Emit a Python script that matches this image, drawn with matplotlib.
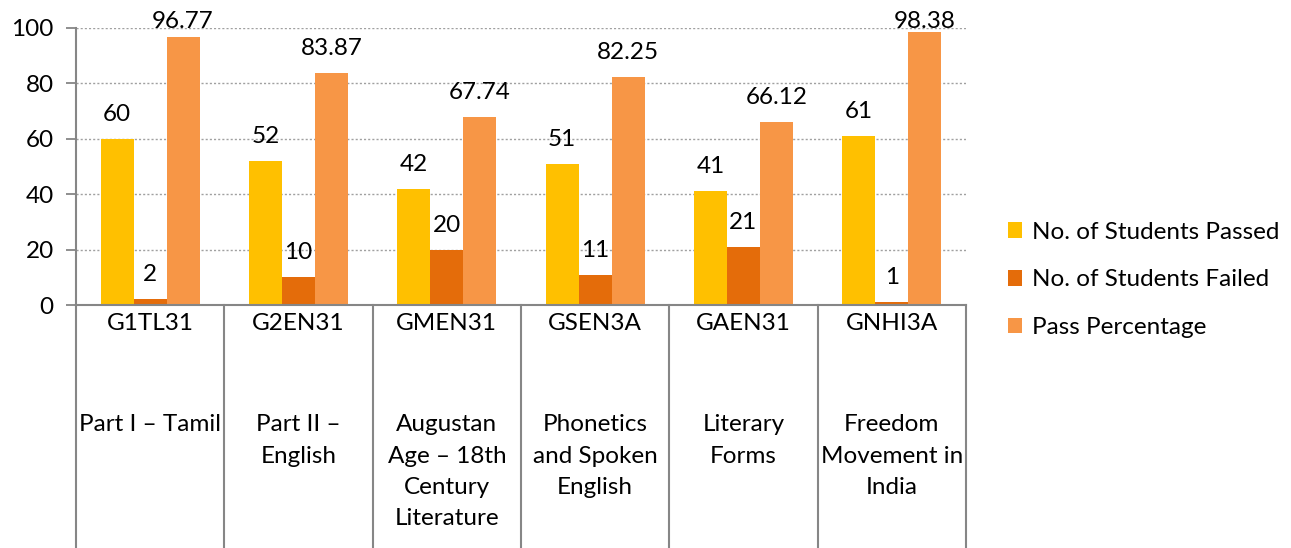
import matplotlib.pyplot as plt
import numpy as np

plt.rcParams['font.family'] = ['Lato', 'DejaVu Sans']

codes = ['G1TL31', 'G2EN31', 'GMEN31', 'GSEN3A', 'GAEN31', 'GNHI3A']
names = ['Part I \u2013 Tamil', 'Part II \u2013\nEnglish', 'Augustan\nAge \u2013 18th\nCentury\nLiterature',
         'Phonetics\nand Spoken\nEnglish', 'Literary\nForms', 'Freedom\nMovement in\nIndia']
passed = [60, 52, 42, 51, 41, 61]
failed = [2, 10, 20, 11, 21, 1]
pass_pct = [96.77, 83.87, 67.74, 82.25, 66.12, 98.38]

series = [('No. of Students Passed', passed, '#FFC000'),
          ('No. of Students Failed', failed, '#E46C0A'),
          ('Pass Percentage', pass_pct, '#F79646')]

fig = plt.figure(figsize=(12.91, 5.48), dpi=100)
ax = fig.add_axes([76 / 1291, 1 - 305 / 548, (966 - 76) / 1291, (305 - 28) / 548])

x = np.arange(len(codes))
w = 0.222
fs = 17.5
for i, (lab, vals, col) in enumerate(series):
    bars = ax.bar(x + (i - 1) * w, vals, w, color=col, label=lab, zorder=2)
    for b, v in zip(bars, vals):
        # labels sit above the bar but are kept inside the plot area (like Excel)
        ax.text(b.get_x() + b.get_width() / 2, min(v + 6.5, 100), f'{v:g}',
                ha='center', va='baseline', fontsize=fs, clip_on=False)

ax.set_xlim(-0.5, len(codes) - 0.5)
ax.set_ylim(0, 100)
ax.set_yticks(range(0, 101, 20))
ax.tick_params(axis='y', length=7, width=1.3, color='#868686', labelsize=fs, pad=9)
ax.set_xticks([])
ax.grid(axis='y', linestyle=(0, (1.5, 1.5)), color='#A0A0A0', lw=1, zorder=0)
for s in ['top', 'right']:
    ax.spines[s].set_visible(False)
for s in ['left', 'bottom']:
    ax.spines[s].set_color('#868686')
    ax.spines[s].set_linewidth(1.5)

# category table below the axis
tr = ax.get_xaxis_transform()
for xb in np.arange(-0.5, len(codes), 1.0):
    ax.plot([xb, xb], [0, -0.9], transform=tr, color='#868686', lw=1.5, clip_on=False)
for i in range(len(codes)):
    ax.text(i, -0.065, codes[i], transform=tr, ha='center', va='center', fontsize=fs)
    ax.text(i, -0.395, names[i], transform=tr, ha='center', va='top', fontsize=fs,
            linespacing=1.6)

fig.legend(loc='center left', bbox_to_anchor=(986 / 1291, 1 - 280 / 548), frameon=False,
           fontsize=fs, handlelength=0.6, handleheight=0.6, handletextpad=0.4,
           labelspacing=1.1)

fig.savefig('out.png', dpi=100)
